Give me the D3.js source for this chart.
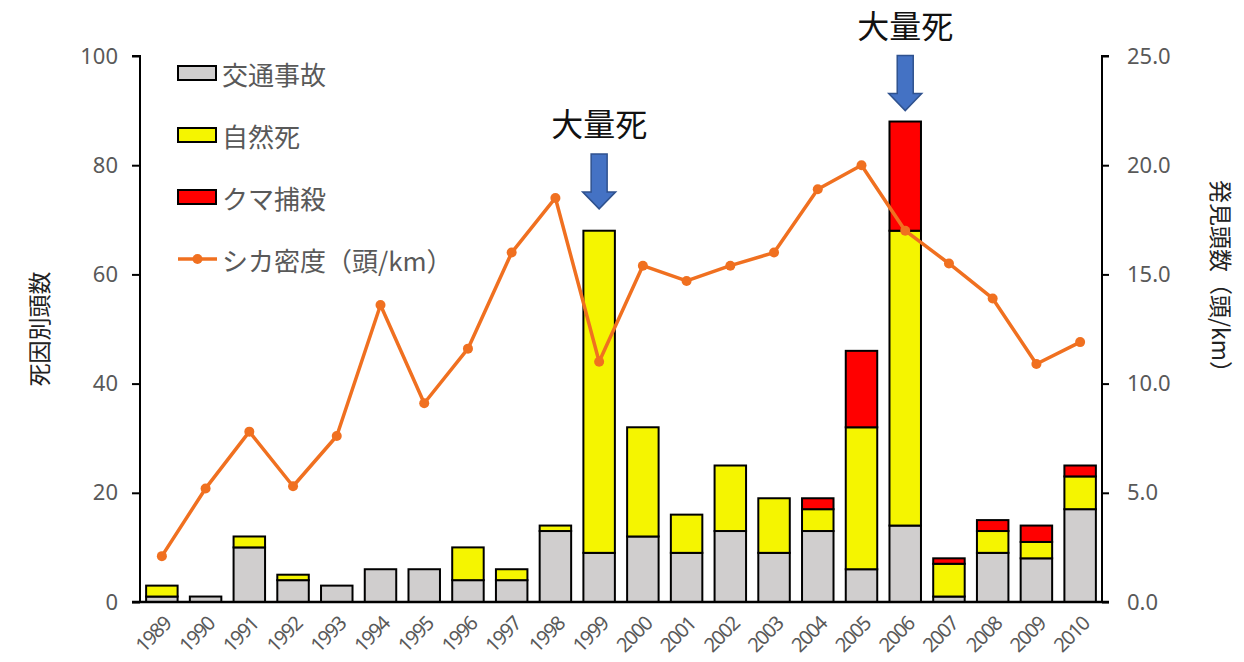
<!DOCTYPE html>
<html>
<head>
<meta charset="utf-8">
<script src="https://cdn.jsdelivr.net/npm/d3@7"></script>
<style>
  html, body { margin: 0; padding: 0; background: #fff; }
  svg { display: block; font-family: "Noto Sans CJK JP", "Noto Sans", sans-serif; }
</style>
</head>
<body>
<svg id="chart" width="1244" height="662"></svg>
<script>
// Years on the x axis
const years = ["1989","1990","1991","1992","1993","1994","1995","1996","1997","1998","1999",
               "2000","2001","2002","2003","2004","2005","2006","2007","2008","2009","2010"];

// Deaths by cause (head count)
const trafficDeaths = [1, 1, 10, 4, 3, 6, 6, 4, 4, 13, 9, 12, 9, 13, 9, 13, 6, 14, 1, 9, 8, 17];
const naturalDeaths = [2, 0, 2, 1, 0, 0, 0, 6, 2, 1, 59, 20, 7, 12, 10, 4, 26, 54, 6, 4, 3, 6];
const bearKills     = [0, 0, 0, 0, 0, 0, 0, 0, 0, 0, 0, 0, 0, 0, 0, 2, 14, 20, 1, 2, 3, 2];

// Deer density (head/km), right axis
const deerDensity = [2.1, 5.2, 7.8, 5.3, 7.6, 13.6, 9.1, 11.6, 16.0, 18.5, 11.0,
                     15.4, 14.7, 15.4, 16.0, 18.9, 20.0, 17.0, 15.5, 13.9, 10.9, 11.9];

// Tick values for both axes
const leftTicks = [0, 20, 40, 60, 80, 100];
const rightTicks = [0, 5, 10, 15, 20, 25];

// Mass-mortality annotations: year and the value the arrow points to
const massDeathYears = ["1999", "2006"];
const massDeathArrowTips = [72, 90];
const massDeathLabel = "大量死";

// Series names and colours
const seriesNames = ["交通事故", "自然死", "クマ捕殺"];
const seriesColors = ["#D0CECE", "#F5F500", "#FF0000"];
const lineName = "シカ密度（頭/km）";
const lineColor = "#F07020";

const svg = d3.select("#chart");
const margin = { left: 140, right: 142, top: 56, bottom: 60 };
const W = 1244, H = 662;
const x0 = margin.left, x1 = W - margin.right;
const yTop = margin.top, yBot = H - margin.bottom;

const x = d3.scaleBand().domain(years).range([x0, x1]).paddingInner(0.28).paddingOuter(0.14);
const yL = d3.scaleLinear().domain([0, 100]).range([yBot, yTop]);
const yR = d3.scaleLinear().domain([0, 25]).range([yBot, yTop]);

// Stack the three causes
const rows = years.map((yr, i) => ({
  year: yr, s0: trafficDeaths[i], s1: naturalDeaths[i], s2: bearKills[i]
}));
const stack = d3.stack().keys(["s0", "s1", "s2"])(rows);

const gBars = svg.append("g");
stack.forEach((layer, li) => {
  gBars.selectAll(null)
    .data(layer.filter(d => d[1] - d[0] > 0))
    .join("rect")
    .attr("x", d => x(d.data.year))
    .attr("width", x.bandwidth())
    .attr("y", d => yL(d[1]))
    .attr("height", d => yL(d[0]) - yL(d[1]))
    .attr("fill", seriesColors[li])
    .attr("stroke", "#000")
    .attr("stroke-width", 2);
});

// Left axis
const axisL = svg.append("g").attr("transform", `translate(${x0},0)`)
  .call(d3.axisLeft(yL).tickValues(leftTicks).tickSize(8).tickPadding(14).tickFormat(d3.format("d")));
// Right axis
const axisR = svg.append("g").attr("transform", `translate(${x1},0)`)
  .call(d3.axisRight(yR).tickValues(rightTicks).tickSize(7).tickPadding(18).tickFormat(d3.format(".1f")));
[axisL, axisR].forEach(a => {
  a.select(".domain").attr("stroke", "#000").attr("stroke-width", 2);
  a.selectAll(".tick line").attr("stroke", "#000").attr("stroke-width", 2);
  a.selectAll(".tick text").attr("fill", "#595959").style("font-size", "22px")
    .style("font-family", "'Noto Sans', 'DejaVu Sans', sans-serif");
});
axisL.select(".domain").attr("d", `M-8,${yTop}H0V${yBot}H-8`);
axisR.select(".domain").attr("d", `M7,${yTop}H0V${yBot}H7`);

// Bottom axis with rotated year labels
const axisB = svg.append("g").attr("transform", `translate(0,${yBot})`)
  .call(d3.axisBottom(x).tickSize(0).tickFormat(""));
axisB.select(".domain").attr("stroke", "#000").attr("stroke-width", 2.5)
  .attr("d", `M${x0 - 8},0H${x1 + 7}`);
const cx = d => x(d) + x.bandwidth() / 2;
svg.append("g").selectAll("text")
  .data(years)
  .join("text")
  .attr("transform", d => `translate(${cx(d) + 5},${yBot + 18}) rotate(-45)`)
  .attr("text-anchor", "end")
  .attr("dominant-baseline", "central")
  .style("font-family", "'Noto Sans', 'DejaVu Sans', sans-serif")
  .style("font-size", "20px")
  .style("letter-spacing", "-1.5px")
  .attr("fill", "#595959")
  .text(d => d);

// Density line
svg.append("path")
  .datum(deerDensity)
  .attr("fill", "none")
  .attr("stroke", lineColor)
  .attr("stroke-width", 3.5)
  .attr("stroke-linejoin", "round")
  .attr("d", d3.line().x((d, i) => cx(years[i])).y(d => yR(d)));
svg.append("g").selectAll("circle")
  .data(deerDensity)
  .join("circle")
  .attr("cx", (d, i) => cx(years[i]))
  .attr("cy", d => yR(d))
  .attr("r", 5)
  .attr("fill", lineColor);

// Axis titles
svg.append("text")
  .attr("transform", `translate(38,${(yTop + yBot) / 2}) rotate(-90)`)
  .attr("text-anchor", "middle").attr("dominant-baseline", "central")
  .attr("font-size", 23).attr("fill", "#222")
  .text("死因別頭数");
svg.append("text")
  .attr("transform", `translate(1222,${282}) rotate(90)`)
  .attr("text-anchor", "middle").attr("dominant-baseline", "central")
  .attr("font-size", 23).attr("fill", "#222")
  .text("発見頭数（頭/km）");

// Legend
const legend = svg.append("g").attr("transform", "translate(178,73)");
const legendStep = 62;
seriesNames.forEach((name, i) => {
  const g = legend.append("g").attr("transform", `translate(0,${i * legendStep})`);
  g.append("rect").attr("x", 0).attr("y", -7).attr("width", 38).attr("height", 14)
    .attr("fill", seriesColors[i]).attr("stroke", "#000").attr("stroke-width", 2);
  g.append("text").attr("x", 44).attr("y", 0).attr("dominant-baseline", "central")
    .attr("font-size", 26).attr("fill", "#595959").text(name);
});
{
  const g = legend.append("g").attr("transform", `translate(0,${3 * legendStep})`);
  g.append("line").attr("x1", 0).attr("x2", 39).attr("y1", 0).attr("y2", 0)
    .attr("stroke", lineColor).attr("stroke-width", 3.5);
  g.append("circle").attr("cx", 19.5).attr("cy", 0).attr("r", 5).attr("fill", lineColor);
  g.append("text").attr("x", 44).attr("y", 0).attr("dominant-baseline", "central")
    .attr("font-size", 26).attr("fill", "#595959").text(lineName);
}

// Mass-mortality arrows and labels
const arrowLen = 55, shaftW = 16, headW = 33, headH = 17;
massDeathYears.forEach((yr, i) => {
  const ax = cx(yr);
  const tip = yL(massDeathArrowTips[i]);
  const top = tip - arrowLen;
  const hs = tip - headH;
  const pts = [
    [ax - shaftW / 2, top], [ax + shaftW / 2, top], [ax + shaftW / 2, hs],
    [ax + headW / 2, hs], [ax, tip], [ax - headW / 2, hs], [ax - shaftW / 2, hs]
  ];
  svg.append("path")
    .attr("d", d3.line()(pts) + "Z")
    .attr("fill", "#4472C4").attr("stroke", "#2F528F").attr("stroke-width", 1.5);
  svg.append("text")
    .attr("x", ax).attr("y", top - 32)
    .attr("text-anchor", "middle").attr("dominant-baseline", "central")
    .attr("font-size", 32).attr("fill", "#111")
    .text(massDeathLabel);
});
</script>
</body>
</html>
